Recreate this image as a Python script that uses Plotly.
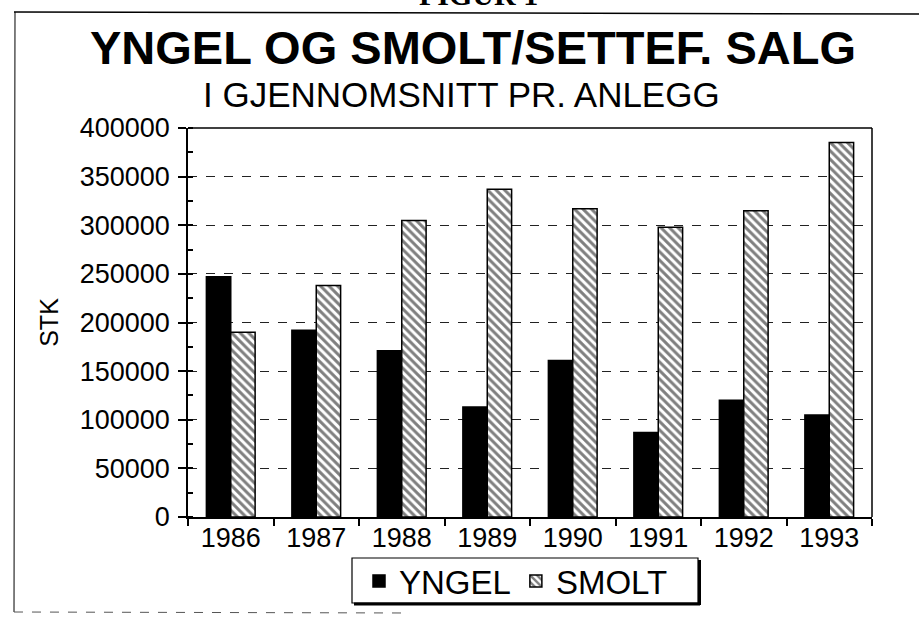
import plotly.graph_objects as go

years = ["1986", "1987", "1988", "1989", "1990", "1991", "1992", "1993"]
yngel = [247000, 192000, 171000, 113000, 161000, 87000, 120000, 105000]
smolt = [190000, 238000, 305000, 337000, 317000, 298000, 315000, 385000]

FONT = "Liberation Sans, Arial, sans-serif"

fig = go.Figure()
fig.add_trace(go.Bar(
    x=years, y=yngel, name="YNGEL",
    marker=dict(color="black", line=dict(color="black", width=1.5)),
))
fig.add_trace(go.Bar(
    x=years, y=smolt, name="SMOLT",
    marker=dict(color="white", line=dict(color="black", width=1.5),
                pattern=dict(shape="\\", fgcolor="black", bgcolor="white",
                             size=6, solidity=0.5)),
))

L, R, T, B = 188, 47, 128, 101
W, H = 919, 618
pw, ph = W - L - R, H - T - B

def px(x):
    return (x - L) / pw

def py(y):
    return (H - B - y) / ph

fig.update_layout(
    width=W, height=H,
    margin=dict(l=L, r=R, t=T, b=B, autoexpand=False),
    paper_bgcolor="white", plot_bgcolor="white",
    barmode="group", bargap=0.43, bargroupgap=0.0,
    font=dict(family=FONT, color="black"),
    showlegend=True,
    legend=dict(
        orientation="h", x=px(516), xanchor="center", y=py(581), yanchor="middle",
        font=dict(size=33, family=FONT, color="black"),
        borderwidth=0, bgcolor="rgba(0,0,0,0)",
        itemwidth=30, tracegroupgap=0,
    ),
    xaxis=dict(
        type="category", tickson="boundaries", ticks="outside", ticklen=7,
        tickwidth=1.5, tickcolor="black",
        showline=True, linecolor="black", linewidth=1.5, mirror=False,
        tickfont=dict(size=27, family=FONT, color="black"),
        ticklabelstandoff=-4,
        showgrid=False,
    ),
    yaxis=dict(
        range=[0, 400000], dtick=50000, tickformat="d",
        ticks="outside", ticklen=8, tickwidth=1.5, tickcolor="black",
        ticklabelstandoff=3,
        minor=dict(dtick=25000, ticks="inside", ticklen=5, tickcolor="black", showgrid=False),
        showline=True, linecolor="black", linewidth=1.5,
        tickfont=dict(size=27, family=FONT, color="black"),
        showgrid=True, gridcolor="#222", griddash="dash", gridwidth=1,
        zeroline=False,
        title=dict(text="STK", font=dict(size=25, family=FONT, color="black"), standoff=14),
    ),
    annotations=[
        dict(text="<b>YNGEL OG SMOLT/SETTEF. SALG</b>", xref="paper", yref="paper",
             x=px(473), y=py(48), xanchor="center", yanchor="middle", showarrow=False,
             font=dict(size=47, family=FONT, color="black")),
        dict(text="I GJENNOMSNITT PR. ANLEGG", xref="paper", yref="paper",
             x=px(461), y=py(94), xanchor="center", yanchor="middle", showarrow=False,
             font=dict(size=35, family=FONT, color="black")),
        dict(text="<b>FIGUR 1</b>", xref="paper", yref="paper",
             x=px(478), y=py(13), xanchor="center", yanchor="bottom", showarrow=False,
             font=dict(size=30, family="Liberation Serif, serif", color="black")),
    ],
    shapes=[
        # outer frame of the scanned figure
        dict(type="line", xref="paper", yref="paper", x0=px(14), x1=px(919), y0=py(12), y1=py(14),
             line=dict(color="black", width=1.5)),
        dict(type="line", xref="paper", yref="paper", x0=px(15), x1=px(14), y0=py(12), y1=py(612),
             line=dict(color="black", width=1)),
        dict(type="line", xref="paper", yref="paper", x0=px(14), x1=px(410), y0=py(612), y1=py(613),
             line=dict(color="#555", width=1, dash="dash")),
        # top and right border of plot area
        dict(type="line", xref="paper", yref="paper", x0=0, x1=1, y0=1, y1=1,
             line=dict(color="black", width=1.5)),
        dict(type="line", xref="paper", yref="paper", x0=1, x1=1, y0=0, y1=1,
             line=dict(color="black", width=1.5)),
        # legend box and its shadow
        dict(type="rect", xref="paper", yref="paper", x0=px(352), x1=px(698), y0=py(558), y1=py(603),
             line=dict(color="black", width=1.2), fillcolor="white", layer="below"),
        dict(type="line", xref="paper", yref="paper", x0=px(354), x1=px(700), y0=py(604), y1=py(604),
             line=dict(color="black", width=3)),
        dict(type="line", xref="paper", yref="paper", x0=px(699.5), x1=px(699.5), y0=py(560), y1=py(605),
             line=dict(color="black", width=3)),
    ],
)

fig.write_html("out.html",
               config={"displayModeBar": False},
               post_script="document.body.style.margin='0';document.body.style.overflow='hidden';")
